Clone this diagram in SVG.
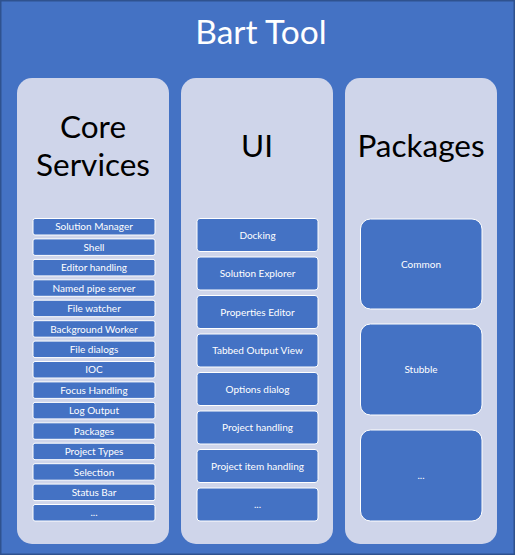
<svg xmlns="http://www.w3.org/2000/svg" width="515" height="555" viewBox="0 0 515 555">
<style>
.bg{fill:#4472C4;stroke:#2F528F;stroke-width:1.5}
.panel{fill:#CFD5EA}
.item{fill:#4472C4;stroke:#FFFFFF;stroke-width:1}
.title{font-family:Lato,"Liberation Sans",sans-serif;fill:#FFFFFF;font-size:33.5px;text-anchor:middle}
.head{font-family:Lato,"Liberation Sans",sans-serif;fill:#000000;font-size:31.5px;text-anchor:middle}
.lbl{font-family:Lato,"Liberation Sans",sans-serif;fill:#FFFFFF;font-size:10px;text-anchor:middle}
</style>
<rect class="bg" x="0.75" y="0.75" width="513.5" height="553.5"/>
<text class="title" x="261" y="44">Bart Tool</text>
<g id="core">
<rect class="panel" x="17" y="78" width="152" height="466" rx="15"/>
<text class="head" x="93" y="138">Core</text>
<text class="head" x="93" y="176">Services</text>
<g id="core-items">
<rect class="item" x="33" y="218.5" width="122" height="16.5" rx="2"/><text class="lbl" x="94" y="230.3">Solution Manager</text>
<rect class="item" x="33" y="238.9" width="122" height="16.5" rx="2"/><text class="lbl" x="94" y="250.7">Shell</text>
<rect class="item" x="33" y="259.4" width="122" height="16.5" rx="2"/><text class="lbl" x="94" y="271.2">Editor handling</text>
<rect class="item" x="33" y="279.8" width="122" height="16.5" rx="2"/><text class="lbl" x="94" y="291.6">Named pipe server</text>
<rect class="item" x="33" y="300.2" width="122" height="16.5" rx="2"/><text class="lbl" x="94" y="312">File watcher</text>
<rect class="item" x="33" y="320.7" width="122" height="16.5" rx="2"/><text class="lbl" x="94" y="332.5">Background Worker</text>
<rect class="item" x="33" y="341.1" width="122" height="16.5" rx="2"/><text class="lbl" x="94" y="352.9">File dialogs</text>
<rect class="item" x="33" y="361.5" width="122" height="16.5" rx="2"/><text class="lbl" x="94" y="373.3">IOC</text>
<rect class="item" x="33" y="381.9" width="122" height="16.5" rx="2"/><text class="lbl" x="94" y="393.7">Focus Handling</text>
<rect class="item" x="33" y="402.4" width="122" height="16.5" rx="2"/><text class="lbl" x="94" y="414.2">Log Output</text>
<rect class="item" x="33" y="422.8" width="122" height="16.5" rx="2"/><text class="lbl" x="94" y="434.6">Packages</text>
<rect class="item" x="33" y="443.2" width="122" height="16.5" rx="2"/><text class="lbl" x="94" y="455">Project Types</text>
<rect class="item" x="33" y="463.7" width="122" height="16.5" rx="2"/><text class="lbl" x="94" y="475.5">Selection</text>
<rect class="item" x="33" y="484.1" width="122" height="16.5" rx="2"/><text class="lbl" x="94" y="495.9">Status Bar</text>
<rect class="item" x="33" y="504.5" width="122" height="16.5" rx="2"/><text class="lbl" x="94" y="516.3">...</text>
</g>
</g>
<g id="ui">
<rect class="panel" x="181" y="78" width="152" height="466" rx="15"/>
<text class="head" x="257" y="157">UI</text>
<g id="ui-items">
<rect class="item" x="197" y="218.5" width="121" height="33" rx="3"/><text class="lbl" x="257.5" y="238.5">Docking</text>
<rect class="item" x="197" y="257" width="121" height="33" rx="3"/><text class="lbl" x="257.5" y="277">Solution Explorer</text>
<rect class="item" x="197" y="295.5" width="121" height="33" rx="3"/><text class="lbl" x="257.5" y="315.5">Properties Editor</text>
<rect class="item" x="197" y="334" width="121" height="33" rx="3"/><text class="lbl" x="257.5" y="354">Tabbed Output View</text>
<rect class="item" x="197" y="372.5" width="121" height="33" rx="3"/><text class="lbl" x="257.5" y="392.5">Options dialog</text>
<rect class="item" x="197" y="411" width="121" height="33" rx="3"/><text class="lbl" x="257.5" y="431">Project handling</text>
<rect class="item" x="197" y="449.5" width="121" height="33" rx="3"/><text class="lbl" x="257.5" y="469.5">Project item handling</text>
<rect class="item" x="197" y="488" width="121" height="33" rx="3"/><text class="lbl" x="257.5" y="508">...</text>
</g>
</g>
<g id="packages">
<rect class="panel" x="345" y="78" width="152" height="466" rx="15"/>
<text class="head" x="421" y="157">Packages</text>
<g id="package-items">
<rect class="item" x="360.5" y="219" width="121.5" height="90" rx="10"/><text class="lbl" x="421" y="267.5">Common</text>
<rect class="item" x="360.5" y="324" width="121.5" height="91" rx="10"/><text class="lbl" x="421" y="372.5">Stubble</text>
<rect class="item" x="360.5" y="430" width="121.5" height="91" rx="10"/><text class="lbl" x="421" y="478.5">...</text>
</g>
</g>
<g id="connectors"/>
</svg>
